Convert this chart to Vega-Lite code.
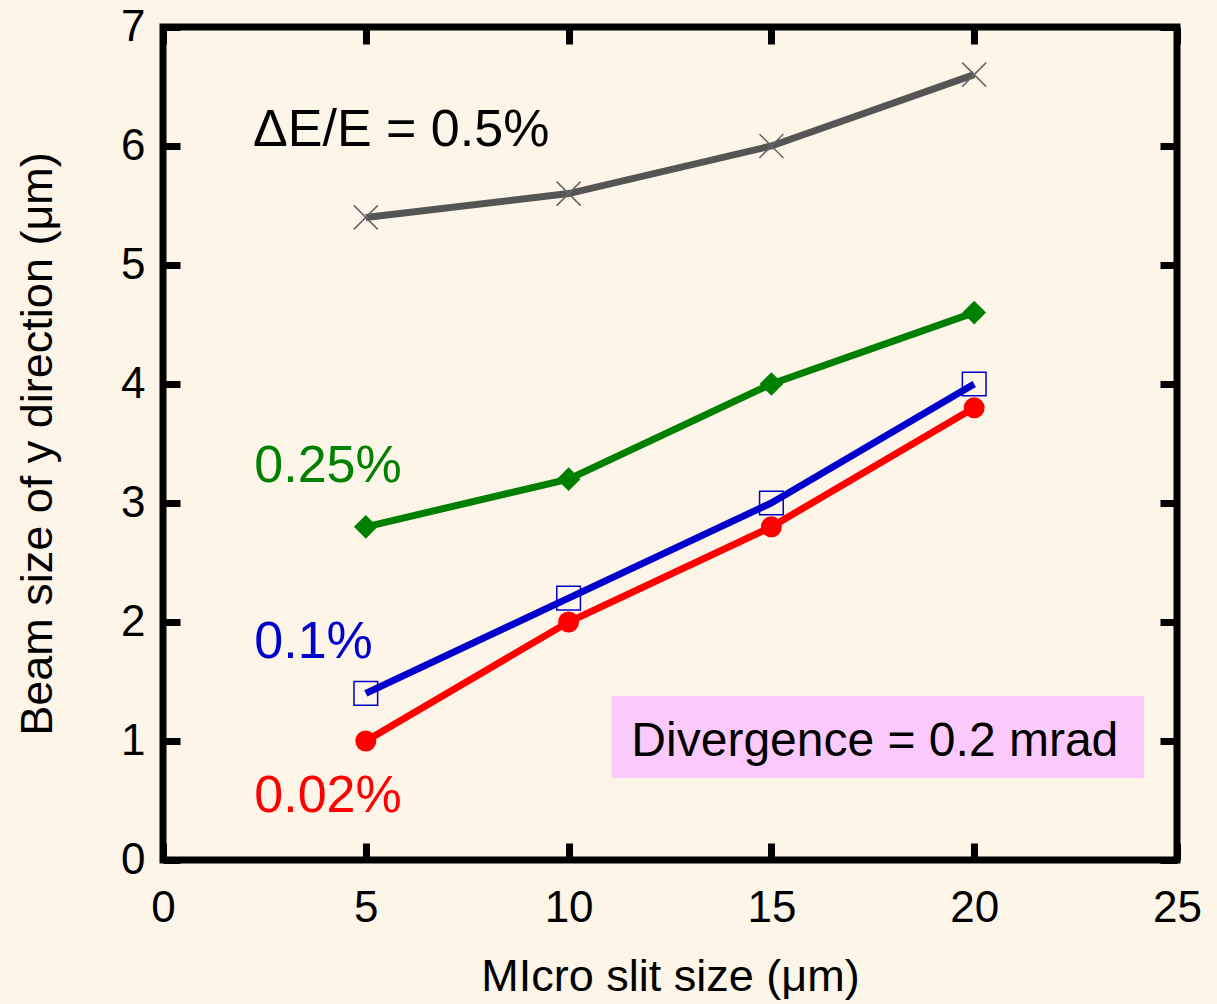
{
  "$schema": "https://vega.github.io/schema/vega-lite/v6.json",
  "autosize": {"type": "none"},
  "width": 1014,
  "height": 833,
  "padding": {"left": 163, "top": 27, "right": 40, "bottom": 144},
  "background": "#FEF5E9",
  "config": {
    "view": {"stroke": "black", "strokeWidth": 7},
    "font": "Liberation Sans",
    "axis": {
      "grid": false, "domain": false, "tickColor": "black", "tickWidth": 7, "tickSize": -17, "labelFlush": false,
      "labelFont": "Liberation Sans", "labelFontSize": 44, "labelColor": "black",
      "titleFont": "Liberation Sans", "titleFontSize": 45, "titleFontWeight": "normal", "titleColor": "black"
    }
  },
  "datasets": {
    "series": [
      {"slit": 5, "beam": 5.4, "s": "0.5%"},
      {"slit": 10, "beam": 5.6, "s": "0.5%"},
      {"slit": 15, "beam": 6.0, "s": "0.5%"},
      {"slit": 20, "beam": 6.6, "s": "0.5%"},
      {"slit": 5, "beam": 2.8, "s": "0.25%"},
      {"slit": 10, "beam": 3.2, "s": "0.25%"},
      {"slit": 15, "beam": 4.0, "s": "0.25%"},
      {"slit": 20, "beam": 4.6, "s": "0.25%"},
      {"slit": 5, "beam": 1.4, "s": "0.1%"},
      {"slit": 10, "beam": 2.2, "s": "0.1%"},
      {"slit": 15, "beam": 3.0, "s": "0.1%"},
      {"slit": 20, "beam": 4.0, "s": "0.1%"},
      {"slit": 5, "beam": 1.0, "s": "0.02%"},
      {"slit": 10, "beam": 2.0, "s": "0.02%"},
      {"slit": 15, "beam": 2.8, "s": "0.02%"},
      {"slit": 20, "beam": 3.8, "s": "0.02%"}
    ],
    "notes": [
      {"slit": 2.22, "beam": 6.0, "label": "ΔE/E = 0.5%", "s": "0.5%"},
      {"slit": 2.25, "beam": 3.18, "label": "0.25%", "s": "0.25%"},
      {"slit": 2.25, "beam": 1.70, "label": "0.1%", "s": "0.1%"},
      {"slit": 2.25, "beam": 0.40, "label": "0.02%", "s": "0.02%"}
    ],
    "box": [
      {"x1": 11.06, "x2": 24.19, "y1": 0.69, "y2": 1.378, "label": "Divergence = 0.2 mrad", "tx": 17.55, "ty": 0.87}
    ]
  },
  "layer": [
    {
      "data": {"name": "box"},
      "mark": {"type": "rect", "color": "#FBC9FB"},
      "encoding": {
        "x": {"field": "x1", "type": "quantitative", "scale": {"domain": [0, 25], "nice": false, "zero": false},
              "axis": {"orient": "bottom", "values": [0, 5, 10, 15, 20, 25], "labelPadding": 43, "title": "MIcro slit size (μm)", "titlePadding": 24}},
        "x2": {"field": "x2"},
        "y": {"field": "y1", "type": "quantitative", "scale": {"domain": [0, 7], "nice": false, "zero": false},
              "axis": {"orient": "left", "values": [0, 1, 2, 3, 4, 5, 6, 7], "labelPadding": 35, "title": "Beam size of y direction (μm)", "titlePadding": 60}},
        "y2": {"field": "y2"}
      }
    },
    {
      "data": {"name": "box"},
      "mark": {"type": "text", "fontSize": 48, "color": "black", "align": "center", "baseline": "alphabetic", "font": "Liberation Sans"},
      "encoding": {
        "x": {"field": "tx", "type": "quantitative", "scale": {"domain": [0, 25], "nice": false, "zero": false},
              "axis": {"orient": "top", "values": [0, 5, 10, 15, 20, 25], "labels": false, "title": null}},
        "y": {"field": "ty", "type": "quantitative", "scale": {"domain": [0, 7], "nice": false, "zero": false},
              "axis": {"orient": "right", "values": [0, 1, 2, 3, 4, 5, 6, 7], "labels": false, "title": null}},
        "text": {"field": "label"}
      }
    },
    {
      "data": {"name": "series"},
      "mark": {"type": "line", "strokeWidth": 7},
      "encoding": {
        "x": {"field": "slit", "type": "quantitative", "axis": null, "scale": {"domain": [0, 25], "nice": false, "zero": false}},
        "y": {"field": "beam", "type": "quantitative", "axis": null, "scale": {"domain": [0, 7], "nice": false, "zero": false}},
        "color": {"field": "s", "type": "nominal", "legend": null,
                  "scale": {"domain": ["0.5%", "0.25%", "0.1%", "0.02%"], "range": ["#555555", "#008000", "#0000CC", "#FF0000"]}},
        "order": {"field": "slit", "type": "quantitative"}
      }
    },
    {
      "data": {"name": "series"},
      "transform": [{"filter": "datum.s === '0.5%'"}],
      "mark": {"type": "point", "shape": "M-1,-1L1,1M-1,1L1,-1", "size": 576, "filled": false, "stroke": "#666666", "strokeWidth": 1.5, "opacity": 1},
      "encoding": {
        "x": {"field": "slit", "type": "quantitative", "axis": null},
        "y": {"field": "beam", "type": "quantitative", "axis": null}
      }
    },
    {
      "data": {"name": "series"},
      "transform": [{"filter": "datum.s === '0.25%'"}],
      "mark": {"type": "point", "shape": "diamond", "size": 560, "filled": true, "color": "#008000", "opacity": 1},
      "encoding": {
        "x": {"field": "slit", "type": "quantitative", "axis": null},
        "y": {"field": "beam", "type": "quantitative", "axis": null}
      }
    },
    {
      "data": {"name": "series"},
      "transform": [{"filter": "datum.s === '0.1%'"}],
      "mark": {"type": "point", "shape": "square", "size": 560, "filled": false, "stroke": "#0000CC", "strokeWidth": 1.5, "opacity": 1},
      "encoding": {
        "x": {"field": "slit", "type": "quantitative", "axis": null},
        "y": {"field": "beam", "type": "quantitative", "axis": null}
      }
    },
    {
      "data": {"name": "series"},
      "transform": [{"filter": "datum.s === '0.02%'"}],
      "mark": {"type": "point", "shape": "circle", "size": 441, "filled": true, "color": "#FF0000", "opacity": 1},
      "encoding": {
        "x": {"field": "slit", "type": "quantitative", "axis": null},
        "y": {"field": "beam", "type": "quantitative", "axis": null}
      }
    },
    {
      "data": {"name": "notes"},
      "transform": [{"filter": "datum.s !== '0.5%'"}],
      "mark": {"type": "text", "fontSize": 52, "align": "left", "baseline": "alphabetic", "font": "Liberation Sans"},
      "encoding": {
        "x": {"field": "slit", "type": "quantitative", "axis": null},
        "y": {"field": "beam", "type": "quantitative", "axis": null},
        "text": {"field": "label"},
        "color": {"field": "s", "type": "nominal", "legend": null,
                  "scale": {"domain": ["0.5%", "0.25%", "0.1%", "0.02%"], "range": ["#555555", "#008000", "#0000CC", "#FF0000"]}}
      }
    },
    {
      "data": {"name": "notes"},
      "transform": [{"filter": "datum.s === '0.5%'"}],
      "mark": {"type": "text", "fontSize": 52, "align": "left", "baseline": "alphabetic", "font": "Liberation Sans", "color": "black"},
      "encoding": {
        "x": {"field": "slit", "type": "quantitative", "axis": null},
        "y": {"field": "beam", "type": "quantitative", "axis": null},
        "text": {"field": "label"}
      }
    }
  ],
  "resolve": {"axis": {"x": "independent", "y": "independent"}}
}
